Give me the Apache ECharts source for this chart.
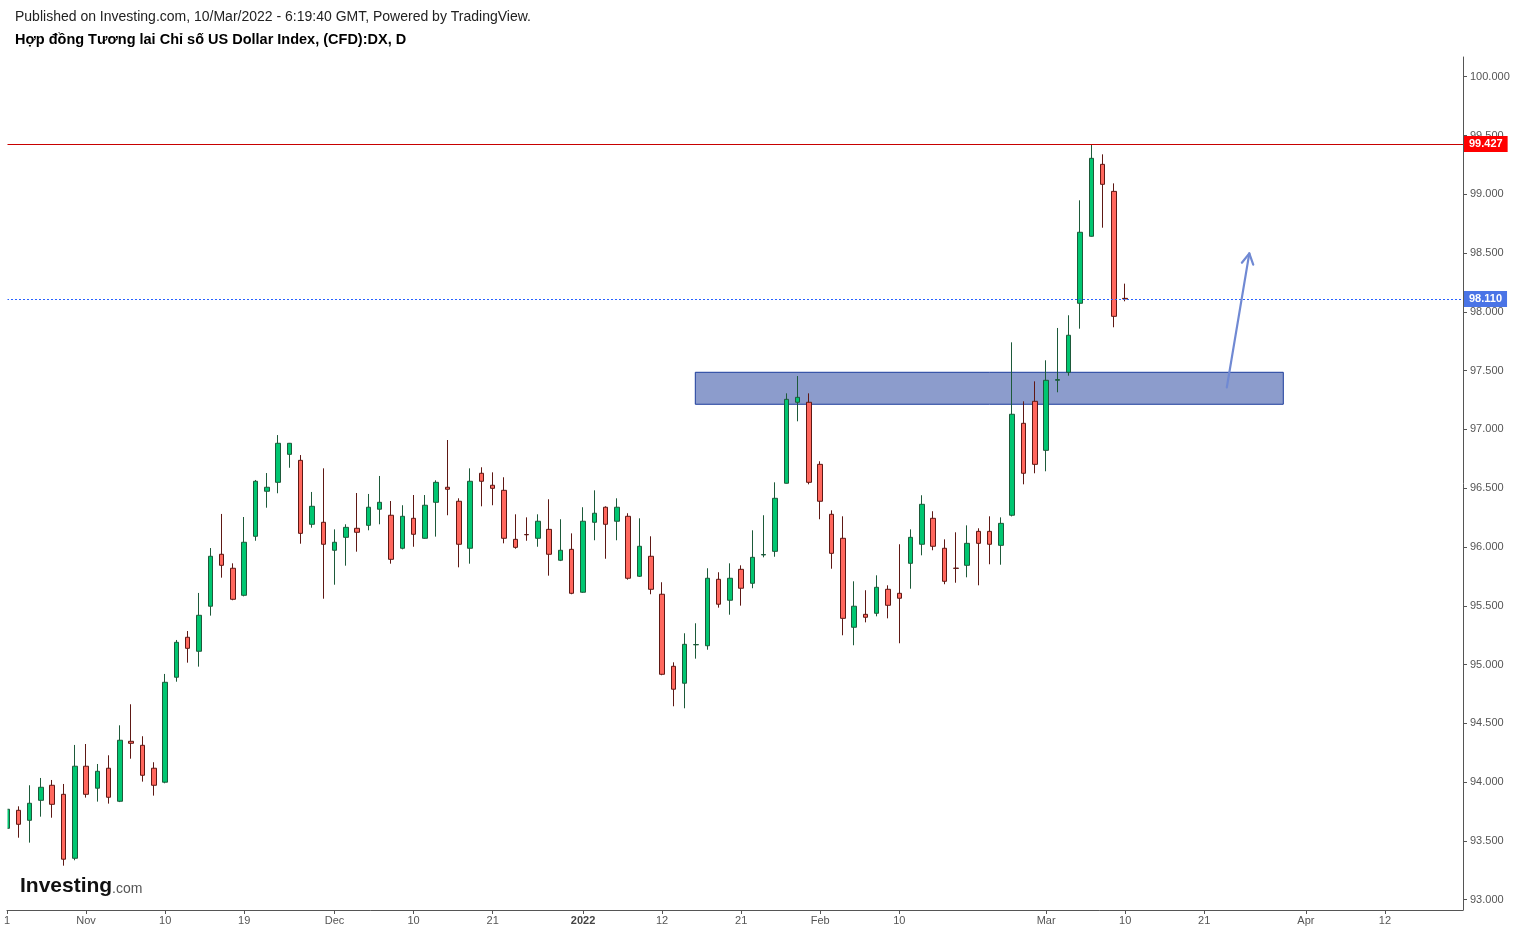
<!DOCTYPE html>
<html><head><meta charset="utf-8">
<script src="https://cdn.jsdelivr.net/npm/echarts@6/dist/echarts.min.js"></script>
<style>html,body{margin:0;padding:0;background:#fff}#c{width:1521px;height:934px}</style>
</head><body><div id="c"></div>
<script>
// ---- data (daily candles, 21 Oct 2021 .. 10 Mar 2022) ----
const open = [93.607,93.760,93.675,93.845,93.973,93.896,93.352,94.135,93.948,94.118,
  93.837,94.347,94.313,94.118,93.999,94.892,95.232,95.113,95.496,95.938,
  95.819,95.589,96.091,96.474,96.550,96.788,96.737,96.193,96.210,95.972,
  96.082,96.159,96.184,96.321,96.270,95.989,96.244,96.074,96.380,96.508,
  96.389,95.989,96.627,96.525,96.482,96.065,96.106,96.074,96.150,95.887,
  95.980,95.615,96.210,96.338,96.219,96.261,95.751,95.921,95.598,94.985,
  94.841,95.168,95.160,95.725,95.547,95.810,95.691,95.932,95.963,96.542,
  97.231,97.231,96.703,96.278,96.074,95.317,95.427,95.436,95.640,95.606,
  95.861,96.023,96.244,95.989,95.820,95.844,96.133,96.133,96.014,96.270,
  97.052,97.239,96.822,97.418,97.486,98.073,98.643,99.255,99.025,98.115];
const close = [93.769,93.641,93.820,93.956,93.811,93.344,94.135,93.896,94.092,93.871,
  94.356,94.330,94.058,93.973,94.849,95.189,95.138,95.419,95.921,95.844,
  95.555,96.040,96.559,96.508,96.882,96.882,96.116,96.346,96.023,96.040,
  96.167,96.125,96.338,96.380,95.895,96.261,96.108,96.355,96.550,96.491,
  96.023,96.559,96.559,96.499,96.074,95.997,96.104,96.219,95.938,95.972,
  95.606,96.219,96.287,96.193,96.338,95.734,96.006,95.640,94.917,94.790,
  95.172,95.170,95.734,95.513,95.734,95.649,95.912,95.936,96.414,97.256,
  97.273,96.550,96.389,95.946,95.393,95.496,95.402,95.657,95.504,95.564,
  96.082,96.363,96.006,95.708,95.818,96.031,96.031,96.023,96.201,97.129,
  96.627,96.703,97.418,97.424,97.801,98.677,99.306,99.085,97.962,98.110];
const low = [93.590,93.527,93.485,93.706,93.697,93.289,93.335,93.868,93.834,93.817,
  93.830,94.199,94.004,93.885,93.990,94.854,95.016,94.982,95.416,95.739,
  95.547,95.580,96.053,96.334,96.457,96.674,96.028,96.164,95.560,95.679,
  95.841,95.960,96.142,96.193,95.858,95.980,96.002,96.070,96.088,96.270,
  95.827,95.858,96.346,96.355,96.031,95.985,96.053,96.002,95.756,95.880,
  95.598,95.610,96.057,95.900,96.057,95.722,95.745,95.598,94.909,94.645,
  94.628,95.050,95.126,95.484,95.424,95.501,95.649,95.912,95.917,96.540,
  97.069,96.533,96.236,95.815,95.249,95.164,95.359,95.410,95.393,95.181,
  95.645,95.929,95.972,95.683,95.696,95.742,95.674,95.853,95.849,96.260,
  96.533,96.627,96.644,97.316,97.457,97.857,98.640,98.716,97.869,98.090];
const high = [93.780,93.794,93.973,94.035,94.018,93.984,94.316,94.324,94.154,94.228,
  94.483,94.662,94.390,94.169,94.920,95.209,95.285,95.609,95.991,96.281,
  95.861,96.255,96.570,96.629,96.952,96.885,96.782,96.468,96.669,96.150,
  96.193,96.459,96.451,96.604,96.391,96.355,96.442,96.442,96.567,96.910,
  96.414,96.669,96.678,96.635,96.593,96.278,96.252,96.278,96.406,96.236,
  96.116,96.338,96.482,96.346,96.414,96.287,96.244,96.091,95.700,95.019,
  95.266,95.351,95.819,95.785,95.861,95.844,96.142,96.270,96.550,97.307,
  97.454,97.307,96.729,96.312,96.261,95.708,95.632,95.759,95.674,96.023,
  96.150,96.440,96.304,96.065,96.125,96.184,96.159,96.261,96.252,97.741,
  97.239,97.409,97.588,97.863,97.971,98.949,99.427,99.340,99.093,98.240];

// x-axis tick labels (date -> label)
const tickDates  = ['2021-10-21','2021-11-01','2021-11-10','2021-11-19','2021-12-01','2021-12-10','2021-12-21',
                    '2022-01-03','2022-01-12','2022-01-21','2022-02-01','2022-02-10','2022-03-01','2022-03-10',
                    '2022-03-21','2022-04-01','2022-04-12'];
const tickLabels = ['1','Nov','10','19','Dec','10','21','2022','12','21','Feb','10','Mar','10','21','Apr','12'];
// y-axis tick values
const yTicks = [93,93.5,94,94.5,95,95.5,96,96.5,97,97.5,98,98.5,99,99.5,100];

// annotations (in data units: x = trading-day index, y = price)
const highLine = 99.427;
const lastPrice = 98.110;
const zoneX = [60.94, 113.0];
const zoneY = [97.486, 97.214];
const arrowFrom = [108.0, 97.358];
const arrowTo = [109.99, 98.498];

// ---- trading-day calendar (weekdays, Christmas Eve closed) ----
const closed = ['2021-12-24'];
const dates = [];
for (let t = Date.UTC(2021, 9, 21); t <= Date.UTC(2022, 4, 6); t += 86400000) {
  const d = new Date(t); const wd = d.getUTCDay();
  const s = d.toISOString().slice(0, 10);
  if (wd !== 0 && wd !== 6 && closed.indexOf(s) < 0) dates.push(s);
}
const tickIdx = tickDates.map(d => dates.indexOf(d));
const labelOf = {};
tickIdx.forEach((ix, k) => { labelOf[ix] = tickLabels[k]; });

const candles = open.map((o, i) => [i, o, close[i], low[i], high[i]]);

const FONT = "'Liberation Sans',Arial";
const chart = echarts.init(document.getElementById('c'), null, {renderer: 'canvas'});
chart.setOption({
  animation: false,
  backgroundColor: '#ffffff',
  grid: {left: 7, top: 57, width: 1456, height: 853, containLabel: false},
  xAxis: {
    type: 'value', min: 0, max: 128.91,
    splitLine: {show: false},
    axisLine: {show: true, onZero: false, lineStyle: {color: '#555555', width: 1}},
    axisTick: {show: true, customValues: tickIdx, length: 4, lineStyle: {color: '#555555'}},
    axisLabel: {
      show: true, customValues: tickIdx, margin: 5,
      color: '#555555', fontSize: 11, fontFamily: FONT,
      formatter: v => { const s = labelOf[Math.round(v)] || ''; return s === '2022' ? '{b|2022}' : s; },
      rich: {b: {fontWeight: 'bold', color: '#444444', fontSize: 11, fontFamily: FONT}}
    }
  },
  yAxis: {
    type: 'value', position: 'right', min: 92.912, max: 100.168,
    splitLine: {show: false},
    axisLine: {show: true, onZero: false, lineStyle: {color: '#555555', width: 1}},
    axisTick: {show: true, customValues: yTicks, length: 4, lineStyle: {color: '#555555'}},
    axisLabel: {show: true, customValues: yTicks, margin: 7, color: '#555555', fontSize: 11,
      fontFamily: FONT, formatter: v => v.toFixed(3)}
  },
  series: [
    {
      type: 'candlestick', name: 'DX',
      data: candles,
      encode: {x: 0, y: [1, 2, 3, 4]},
      barWidth: 5, clip: true,
      itemStyle: {color: '#00c671', color0: '#ff675d', borderColor: '#1d5a3a', borderColor0: '#5e1814', borderWidth: 1},
      markArea: {
        silent: true, z: 1,
        itemStyle: {color: '#8c9ccc', borderColor: '#1c3c9c', borderWidth: 1},
        data: [[{xAxis: zoneX[0], yAxis: zoneY[0]}, {xAxis: zoneX[1], yAxis: zoneY[1]}]]
      },
      markLine: {
        silent: true, symbol: 'none', animation: false, precision: 3,
        data: [
          {yAxis: highLine, lineStyle: {color: '#c80000', width: 1, type: 'solid'},
           label: {show: true, position: 'end', distance: 1, formatter: highLine.toFixed(3),
             backgroundColor: '#ff0000', color: '#ffffff', fontWeight: 'bold', fontSize: 11,
             fontFamily: FONT, padding: [3, 5, 2, 5]}},
          {yAxis: lastPrice, lineStyle: {color: '#2962ff', width: 1, type: [2, 2]},
           label: {show: true, position: 'end', distance: 1, formatter: lastPrice.toFixed(3),
             backgroundColor: '#4a74e6', color: '#ffffff', fontWeight: 'bold', fontSize: 11,
             fontFamily: FONT, padding: [3, 5, 2, 5]}}
        ]
      }
    },
    {
      type: 'custom', name: 'arrow', silent: true, z: 10, clip: false,
      data: [[arrowFrom[0], arrowFrom[1], arrowTo[0], arrowTo[1]]],
      encode: {x: [0, 2], y: [1, 3]},
      renderItem: (params, api) => {
        const p1 = api.coord([api.value(0), api.value(1)]);
        const p2 = api.coord([api.value(2), api.value(3)]);
        const ang = Math.atan2(p2[1] - p1[1], p2[0] - p1[0]);
        const L = 12, a = 0.5;
        const h1 = [p2[0] - L * Math.cos(ang - a), p2[1] - L * Math.sin(ang - a)];
        const h2 = [p2[0] - L * Math.cos(ang + a), p2[1] - L * Math.sin(ang + a)];
        const st = {stroke: '#7089d3', lineWidth: 2.2, fill: null, lineCap: 'round', lineJoin: 'round'};
        return {type: 'group', children: [
          {type: 'line', shape: {x1: p1[0], y1: p1[1], x2: p2[0], y2: p2[1]}, style: st},
          {type: 'polyline', shape: {points: [h1, p2, h2]}, style: st}
        ]};
      }
    }
  ],
  graphic: [
    // left edge mask: the first candle is cut by the chart's left border
    {type: 'rect', left: 0, top: 57, z: 100, silent: true, shape: {width: 7.5, height: 852}, style: {fill: '#ffffff'}},
    {type: 'text', left: 15, top: 10, silent: true,
     style: {text: 'Published on Investing.com, 10/Mar/2022 - 6:19:40 GMT, Powered by TradingView.',
       font: "14px 'Liberation Sans', Arial", fill: '#222222'}},
    {type: 'text', left: 15, top: 32, silent: true,
     style: {text: 'Hợp đồng Tương lai Chỉ số US Dollar Index, (CFD):DX, D',
       font: "bold 14.5px 'Liberation Sans', Arial", fill: '#000000'}},
    {type: 'text', left: 20, top: 876, silent: true,
     style: {text: 'Investing', font: "bold 21px 'Liberation Sans', Arial", fill: '#111111'}},
    {type: 'text', left: 112, top: 882, silent: true,
     style: {text: '.com', font: "14px 'Liberation Sans', Arial", fill: '#555555'}}
  ]
});
</script></body></html>
